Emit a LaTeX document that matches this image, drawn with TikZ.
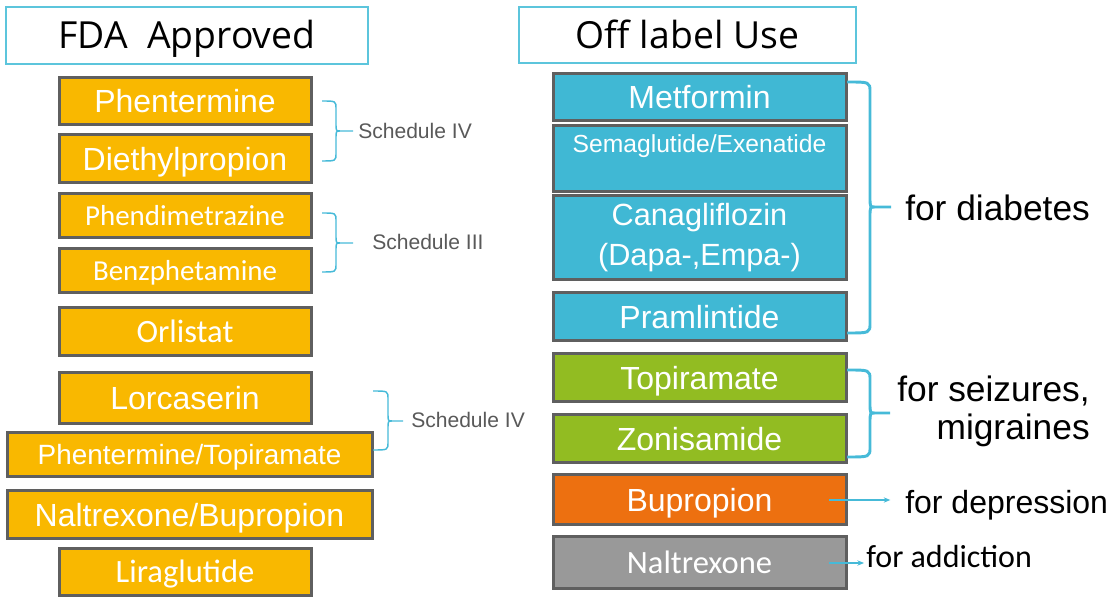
\documentclass[tikz,border=0pt]{standalone}
\usepackage{fontspec}
\setmainfont{Liberation Sans}
\newfontfamily\carl{Carlito}
\newfontfamily\osans{Open Sans}
\usetikzlibrary{arrows.meta}
\definecolor{yelf}{RGB}{249,184,0}
\definecolor{boxgray}{RGB}{95,95,95}
\definecolor{cyanf}{RGB}{64,184,212}
\definecolor{greenf}{RGB}{146,188,34}
\definecolor{orangef}{RGB}{237,112,16}
\definecolor{grayf}{RGB}{153,153,153}
\definecolor{titleb}{RGB}{92,197,220}
\definecolor{bracec}{RGB}{70,186,216}
\definecolor{schedgray}{RGB}{89,89,89}
\newcommand{\cbrace}[8]{%
\draw[#1] (#2,#5) .. controls (#3,#5) .. (#3,#5+#8) -- (#3,#6-#8) .. controls (#3,#6) .. (#3+#8/2,#6) -- (#4,#6)
 (#3+#8/2,#6) .. controls (#3,#6) .. (#3,#6+#8) -- (#3,#7-#8) .. controls (#3,#7) .. (#2,#7);}
\begin{document}
\begin{tikzpicture}[x=0.75pt,y=-0.75pt,
  wd/.style={minimum width=#1*0.75pt},
  ht/.style={minimum height=#1*0.75pt},
  drug/.style={draw=boxgray, line width=2.25pt, inner sep=0pt, text=white, wd=252},
  rdrug/.style={drug, wd=293},
  yel/.style={fill=yelf},
  cya/.style={fill=cyanf},
  gre/.style={fill=greenf},
  ora/.style={fill=orangef},
  gry/.style={fill=grayf},
  ar24/.style={font=\fontsize{24}{28}\selectfont, text height=17.2pt, text depth=0pt},
  ar21/.style={font=\fontsize{20.9}{25}\selectfont, text height=15pt, text depth=0pt},
  ca22/.style={font=\carl\fontsize{21.7}{26}\selectfont, text height=14pt, text depth=0pt},
  ca24/.style={font=\carl\fontsize{24.4}{29}\selectfont, text height=15.7pt, text depth=0pt},
  titlebox/.style={draw=titleb, line width=1.1pt, fill=white, inner sep=0pt,
    font=\osans\fontsize{28}{34}\selectfont, text height=20pt, text depth=0pt},
  sched/.style={font=\fontsize{15.8}{19}\selectfont, text=schedgray, inner sep=0pt, anchor=west,
    text height=11.3pt, text depth=0pt},
  biglab/.style={font=\fontsize{26.5}{32}\selectfont, inner sep=0pt},
  smallbrace/.style={draw=bracec, line width=1.1pt},
  bigbrace/.style={draw=bracec, line width=2.2pt},
  arrowc/.style={draw=bracec, line width=0.8pt, -{Stealth[length=5pt,width=4pt]}}
]
\useasboundingbox (0,0) rectangle (1115,598);

% titles
\node[titlebox, wd=362, ht=57] (fda) at (187,35.5) {FDA\ \ Approved};
\node[titlebox, wd=337, ht=56] (off) at (687.5,35) {Off label Use};

% left column
\node[drug,yel,ar24,ht=47] (phen) at (185,101.5) {Phentermine};
\node[drug,yel,ar24,ht=48] (dieth) at (185,159) {Diethylpropion};
\node[drug,yel,ca22,ht=44] (phend) at (185,216) {Phendimetrazine};
\node[drug,yel,ca22,ht=44] (benz) at (185,271) {Benzphetamine};
\node[drug,yel,ca24,ht=48] (orl) at (185,332) {Orlistat};
\node[drug,yel,ar24,ht=51] (lorc) at (185,398.5) {Lorcaserin};
\node[drug,yel,ar21,wd=365,ht=44] (phtop) at (189.5,455) {Phentermine/Topiramate};
\node[drug,yel,ar24,wd=365,ht=48] (nalbup) at (189.5,515) {Naltrexone/Bupropion};
\node[drug,yel,ca24,ht=47] (lira) at (185,572.5) {Liraglutide};

% schedule braces and labels
\cbrace{smallbrace}{322}{336}{353}{101}{131}{161}{8}
\node[sched] (s4a) at (358,131) {Schedule IV};
\cbrace{smallbrace}{322}{336}{353}{213}{243}{272}{8}
\node[sched] (s3) at (372,242) {Schedule III};
\cbrace{smallbrace}{373}{388}{403}{391}{421}{450}{8}
\node[sched] (s4b) at (411,420) {Schedule IV};

% right column
\node[rdrug,cya,ar24,ht=47] (met) at (699.5,97.5) {Metformin};
\node[rdrug,cya,ht=66,font=\fontsize{18.5}{22}\selectfont,text height=13.2pt,text depth=22.2pt] (sema) at (699.5,159) {Semaglutide/Exenatide};
\node[rdrug,cya,ht=84,align=center,font=\fontsize{23}{30}\selectfont] (cana) at (699.5,238) {Canagliflozin\\(Dapa-,Empa-)};
\node[rdrug,cya,ar24,ht=48] (pram) at (699.5,317) {Pramlintide};
\node[rdrug,gre,ar24,ht=48] (topi) at (699.5,378) {Topiramate};
\node[rdrug,gre,ar24,ht=48] (zoni) at (699.5,439) {Zonisamide};
\node[rdrug,ora,ar24,ht=50] (bup) at (699.5,500) {Bupropion};
\node[rdrug,gry,ca24,ht=52] (nalt) at (699.5,563) {Naltrexone};

% right braces and labels
\cbrace{bigbrace}{847}{870}{891}{82}{207}{333}{10}
\node[biglab, anchor=west, text height=19pt, text depth=0pt] (diab) at (905,208) {for diabetes};
\cbrace{bigbrace}{847}{870}{890}{370}{413}{457}{10}
\node[biglab, anchor=base east] (seiz) at (1090,402) {for seizures,};
\node[biglab, anchor=base east] (migr) at (1090,440) {migraines};

\node[font=\fontsize{24}{28}\selectfont, inner sep=0pt, anchor=west, text height=17.2pt, text depth=0pt] (dep) at (905,502) {for depression};
\node[font=\carl\fontsize{24}{28}\selectfont, inner sep=0pt, anchor=base west] (add) at (866,568) {for addiction};

\draw[arrowc] ([xshift=-14pt]bup.east) -- ([xshift=-11pt]dep.west |- bup.east);
\draw[arrowc] ([xshift=-14pt]nalt.east) -- ([xshift=-1.5pt]add.west |- nalt.east);
\end{tikzpicture}
\end{document}
